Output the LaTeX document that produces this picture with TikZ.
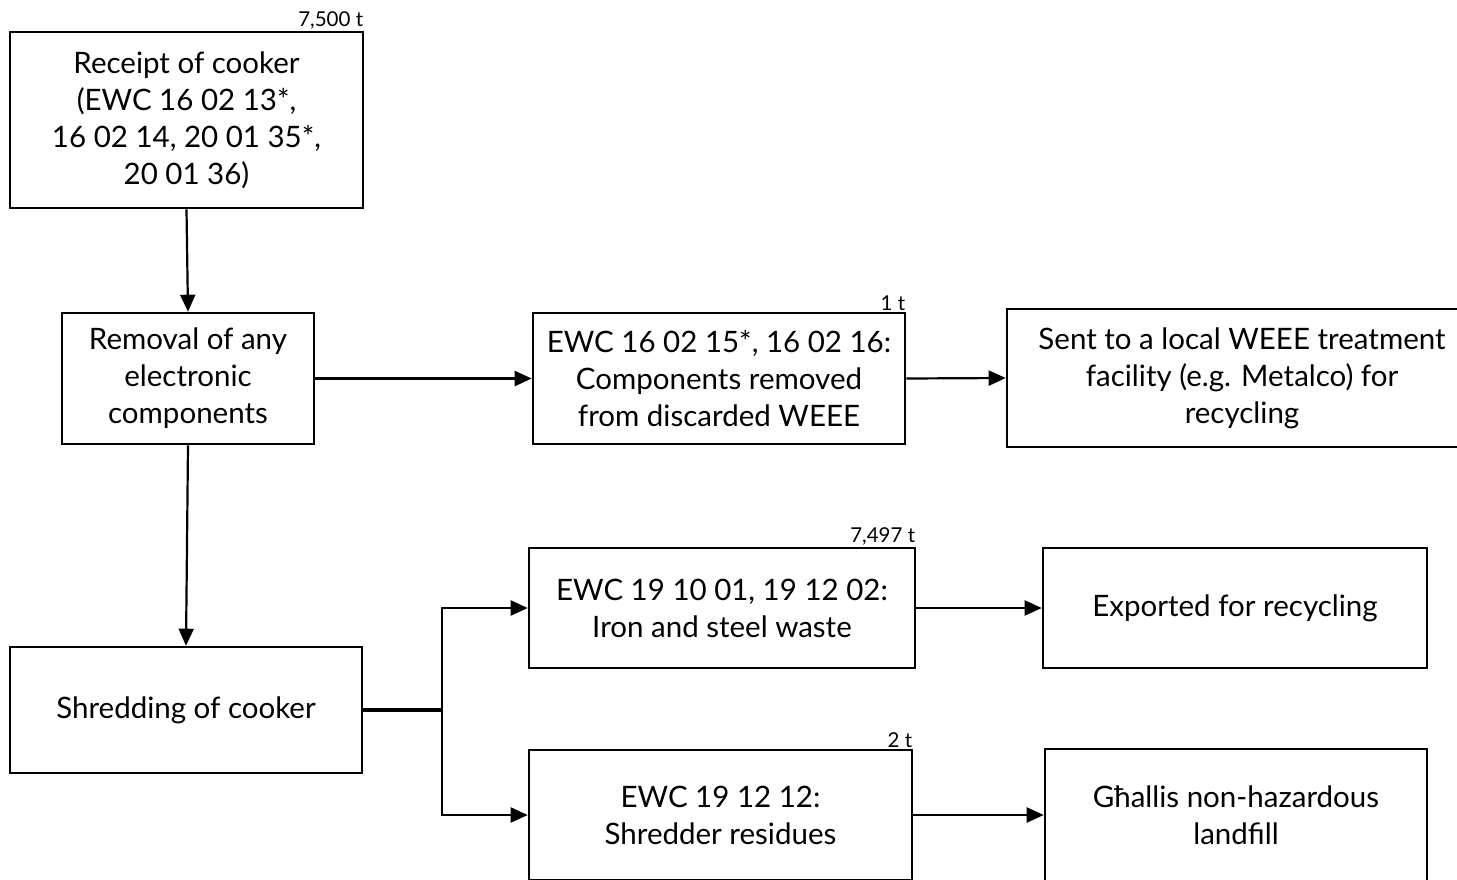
\documentclass[tikz,border=0pt]{standalone}
\usepackage{fontspec}
\setmainfont{Lato}
\usetikzlibrary{arrows.meta}
\tikzset{
  box/.style={draw, line width=2.6pt, align=center, inner sep=4pt,
    font=\fontsize{29.5}{37}\selectfont},
  conn/.style={line width=2.2pt, -{Triangle[length=17pt,width=15pt]}},
  qty/.style={anchor=south east, inner sep=1pt, font=\fontsize{20.5}{22}\selectfont}
}
\begin{document}
\begin{tikzpicture}[x=1pt,y=-1pt]
\clip (0,0) rectangle (1457,879);
\fill[white] (0,0) rectangle (1457,879);
\node[box, minimum width=353pt, minimum height=176pt] (A) at (186.5,120) {Receipt of cooker\\(EWC 16 02 13*,\\16 02 14, 20 01 35*,\\20 01 36)};
\node[box, minimum width=252pt, minimum height=131pt] (B) at (188,378.5) {Removal of any\\electronic\\components};
\node[box, minimum width=372pt, minimum height=131pt] (C) at (719,378.5) {EWC 16 02 15*, 16 02 16:\\Components removed\\from discarded WEEE};
\node[box, minimum width=470pt, minimum height=138pt] (D) at (1242,378) {Sent to a local WEEE treatment\\facility (e.g. Metalco) for\\recycling};
\node[box, minimum width=352pt, minimum height=126pt] (E) at (186,710) {Shredding of cooker};
\node[box, minimum width=386pt, minimum height=120pt] (F) at (722,608) {EWC 19 10 01, 19 12 02:\\Iron and steel waste};
\node[box, minimum width=383pt, minimum height=130pt] (G) at (720.5,815) {EWC 19 12 12:\\Shredder residues};
\node[box, minimum width=384pt, minimum height=120pt] (H) at (1235,608) {Exported for recycling};
\node[box, minimum width=382pt, minimum height=132pt] (I) at (1236,815) {Għallis non-hazardous\\landfill};
\node[qty] (qA) at (A.north east) {7,500 t};
\node[qty] (qC) at (C.north east) {1 t};
\node[qty] (qF) at (F.north east) {7,497 t};
\node[qty] (qG) at (G.north east) {2 t};
\coordinate (J) at (442,710);
\draw[conn] (A.south) -- (B.north);
\draw[conn] (B.south) -- (E.north);
\draw[conn] (B.east) -- (C.west);
\draw[conn] (C.east) -- (D.west);
\draw[conn] (F.east) -- (H.west);
\draw[conn] (G.east) -- (I.west);
\draw[line width=3.8pt] (E.east) -- (J);
\draw[conn] (J) |- (F.west);
\draw[conn] (J) |- (G.west);
\end{tikzpicture}
\end{document}
